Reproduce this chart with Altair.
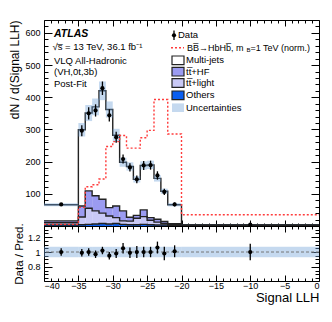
import altair as alt
import pandas as pd

# ---------------- data ----------------
edges = [-40, -35, -34, -33, -32, -31, -30, -29, -28, -27, -26, -25, -24, -23, -22, -20, 0]
others = [3, 4, 5, 6, 8, 6, 8, 5, 4, 4, 5, 4, 3, 3, 2, 0.5]
tt_light = [7, 24, 50, 41, 32, 25, 18, 11, 11, 20, 24, 14, 9, 5, 2, 0.5]
tt_hf = [6, 34, 54, 47, 43, 26, 36, 31, 12, 9, 21, 8, 9, 6, 3, 1]
multijet = [50, 237, 242, 276, 337, 305, 220, 151, 158, 112, 138, 164, 127, 94, 59, 2]
signal = [5, 58, 122, 128, 146, 247, 262, 281, 242, 242, 274, 297, 393, 393, 286, 35]
data_vals = [67, 296, 350, 359, 428, 344, 276, 208, 182, 145, 188, 189, 157, 106, 67, 4]
data_err = [3.7, 17, 19, 19, 21, 19, 17, 14, 13, 12, 14, 14, 13, 10, 6, 0.45]
pred_unc = [5, 21, 25, 26, 29, 25, 20, 14, 13, 10, 13, 13, 10, 8, 5, 0.3]
ratio_vals = [1.0, 0.99, 1.0, 0.97, 1.02, 0.95, 0.98, 1.05, 0.99, 1.0, 1.0, 1.0, 1.06, 0.98, 1.01, 1.0]
ratio_err = [0.05, 0.05, 0.05, 0.05, 0.05, 0.05, 0.06, 0.07, 0.07, 0.08, 0.07, 0.07, 0.08, 0.09, 0.08, 0.11]
ratio_unc = [0.07, 0.07, 0.07, 0.07, 0.07, 0.07, 0.07, 0.07, 0.07, 0.07, 0.07, 0.07, 0.07, 0.07, 0.07, 0.07]

main_yticks = [100, 200, 300, 400, 500, 600]
main_yminor = [20, 40, 60, 80, 120, 140, 160, 180, 220, 240, 260, 280, 320, 340, 360, 380,
               420, 440, 460, 480, 520, 540, 560, 580, 620]
ratio_yticks = [0.8, 1.0, 1.2]
ratio_yminor = [0.65, 0.7, 0.75, 0.85, 0.9, 0.95, 1.05, 1.1, 1.15, 1.25, 1.3]
xticks = [-40, -35, -30, -25, -20, -15, -10, -5, 0]
xminor = [v for v in range(-39, 0) if v % 5 != 0]

comp_names = ["Others", "tt+light", "tt+HF", "Multi-jets"]
comp_colors = ["#0a5ef0", "#c9c9f6", "#9b9bf1", "#ffffff"]

# ---------------- layout / style ----------------
W, H1, H2 = 275, 206, 55
FONT = "Liberation Sans"
BAND = "#6f9fd8"
BAND_OP = 0.4

n = len(edges) - 1
lo = edges[:-1]
hi = edges[1:]
mid = [(a + b) / 2 for a, b in zip(lo, hi)]

xs = alt.Scale(domain=[-40, 0], nice=False, zero=False)
ys1 = alt.Scale(domain=[0, 640], nice=False, zero=False)
ys2 = alt.Scale(domain=[0.61, 1.35], nice=False, zero=False)

# stacked components
rows, lines = [], []
base = [0.0] * n
for name, vals in zip(comp_names, [others, tt_light, tt_hf, multijet]):
    top = [b + v for b, v in zip(base, vals)]
    for i in range(n):
        rows.append(dict(lo=lo[i], hi=hi[i], y0=base[i], y1=top[i], comp=name))
    for i, e in enumerate(edges):
        lines.append(dict(x=e, y=top[min(i, n - 1)], comp=name))
    base = top
total = base
stack_df = pd.DataFrame(rows)
line_df = pd.DataFrame(lines)
sig_df = pd.DataFrame({"x": edges, "y": signal + [signal[-1]]})
bins_df = pd.DataFrame({"lo": lo, "hi": hi, "mid": mid, "pred": total, "unc": pred_unc,
                        "data": data_vals, "err": data_err,
                        "r": ratio_vals, "rerr": ratio_err, "runc": ratio_unc})
bins_df["ulo"] = bins_df["pred"] - bins_df["unc"]
bins_df["uhi"] = bins_df["pred"] + bins_df["unc"]
bins_df["dlo"] = bins_df["data"] - bins_df["err"]
bins_df["dhi"] = bins_df["data"] + bins_df["err"]
bins_df["rlo"] = bins_df["r"] - bins_df["rerr"]
bins_df["rhi"] = bins_df["r"] + bins_df["rerr"]
bins_df["rulo"] = 1 - bins_df["runc"]
bins_df["ruhi"] = 1 + bins_df["runc"]


def tick_axis(orient, offset, values, size):
    return alt.Axis(orient=orient, offset=offset, values=values, tickSize=size, labels=False,
                    domain=False, grid=False, title=None, ticks=True, tickColor="black", tickWidth=1)


def axis_layers(ys, yfield, ymaj, ymin, H, ysz=8, xsz=6):
    out = []
    specs = [
        (tick_axis("top", -H, xticks, xsz), tick_axis("right", -W, ymaj, ysz)),
        (tick_axis("top", -H, xminor, xsz / 2), tick_axis("right", -W, ymin, ysz / 2)),
        (tick_axis("bottom", -H, xticks, xsz), tick_axis("left", -W, ymaj, ysz)),
        (tick_axis("bottom", -H, xminor, xsz / 2), tick_axis("left", -W, ymin, ysz / 2)),
    ]
    for xa, ya in specs:
        out.append(alt.Chart(bins_df).mark_point(opacity=0).encode(
            x=alt.X("mid:Q", scale=xs, axis=xa), y=alt.Y(yfield, scale=ys, axis=ya)))
    return out


# ---------------- main panel ----------------
fills = alt.Chart(stack_df).mark_rect(clip=True).encode(
    x=alt.X("lo:Q", scale=xs, axis=None), x2="hi:Q",
    y=alt.Y("y0:Q", scale=ys1, axis=alt.Axis(
        orient="left", values=main_yticks, ticks=False, domain=False, grid=False,
        labelPadding=4, title="dN / d(Signal LLH)", titleAnchor="end", titlePadding=3)),
    y2="y1:Q",
    color=alt.Color("comp:N", scale=alt.Scale(domain=comp_names, range=comp_colors), legend=None),
)
outlines = alt.Chart(line_df).mark_line(interpolate="step-after", color="#222222",
                                        strokeWidth=1.4, clip=True).encode(
    x=alt.X("x:Q", scale=xs, axis=None), y=alt.Y("y:Q", scale=ys1, axis=None), detail="comp:N")
band = alt.Chart(bins_df).mark_rect(color=BAND, opacity=BAND_OP, clip=True).encode(
    x=alt.X("lo:Q", scale=xs, axis=None), x2="hi:Q",
    y=alt.Y("ulo:Q", scale=ys1, axis=None), y2="uhi:Q")
sig = alt.Chart(sig_df).mark_line(interpolate="step-after", color="#ff3b3b", strokeDash=[2, 2],
                                  strokeWidth=1.4, clip=True).encode(
    x=alt.X("x:Q", scale=xs, axis=None), y=alt.Y("y:Q", scale=ys1, axis=None))
derr = alt.Chart(bins_df).mark_rule(color="black", strokeWidth=1.3).encode(
    x=alt.X("mid:Q", scale=xs, axis=None), y=alt.Y("dlo:Q", scale=ys1, axis=None), y2="dhi:Q")
dpts = alt.Chart(bins_df).mark_point(filled=True, shape="circle", size=18, color="black",
                                     opacity=1).encode(
    x=alt.X("mid:Q", scale=xs, axis=None), y=alt.Y("data:Q", scale=ys1, axis=None))


def txt(s, x, y, size=9.5, **kw):
    return alt.Chart(pd.DataFrame({"t": [s]})).mark_text(
        align="left", baseline="middle", font=FONT, fontSize=size, color="black", **kw).encode(
        x=alt.value(x), y=alt.value(y), text="t:N")


annot = [
    txt("ATLAS", 10, 14, 10.5, fontWeight="bold", fontStyle="italic"),
    txt("\u221as\u0305 = 13 TeV, 36.1 fb\u207b\u00b9", 8.5, 27),
    txt("VLQ All-Hadronic", 10, 41),
    txt("(VH,0t,3b)", 10, 52),
    txt("Post-Fit", 10, 64),
]

LX0, LX1, LT = 128, 140, 142
leg = []
# Data
leg.append(alt.Chart(pd.DataFrame({"a": [0]})).mark_rule(color="black", strokeWidth=1.3).encode(
    x=alt.value(130), y=alt.value(10.5), y2=alt.value(20)))
leg.append(alt.Chart(pd.DataFrame({"a": [0]})).mark_point(filled=True, size=18, color="black",
                                                          opacity=1).encode(
    x=alt.value(130), y=alt.value(15.3)))
leg.append(txt("Data", 134, 15.3))
# signal
leg.append(alt.Chart(pd.DataFrame({"a": [0]})).mark_rule(color="#ff3b3b", strokeDash=[2, 2],
                                                         strokeWidth=1.4).encode(
    x=alt.value(127), x2=alt.value(140), y=alt.value(27.7)))
leg.append(txt("BB\u0305\u2192HbHb\u0305, m", 143, 27.7, 9))
leg.append(txt("B", 202.5, 30.3, 6))
leg.append(txt("=1 TeV (norm.)", 206.5, 27.7, 9))
box_items = [("Multi-jets", "#ffffff", 40.3), ("tt\u0305+HF", "#9b9bf1", 51.7),
             ("tt\u0305+light", "#c9c9f6", 63.0), ("Others", "#0a5ef0", 75.3)]
for lab, col, yy in box_items:
    leg.append(alt.Chart(pd.DataFrame({"a": [0]})).mark_rect(fill=col, stroke="#222222",
                                                             strokeWidth=1.2).encode(
        x=alt.value(LX0), x2=alt.value(LX1), y=alt.value(yy - 4.3), y2=alt.value(yy + 4.3)))
    leg.append(txt(lab, LT, yy))
leg.append(alt.Chart(pd.DataFrame({"a": [0]})).mark_rect(fill=BAND, opacity=BAND_OP).encode(
    x=alt.value(LX0), x2=alt.value(LX1), y=alt.value(87.7 - 4.3), y2=alt.value(87.7 + 4.3)))
leg.append(txt("Uncertainties", LT, 87.7))

main = alt.layer(
    fills, outlines, band, sig, derr, dpts,
    *axis_layers(ys1, "data:Q", main_yticks, main_yminor, H1),
    *annot, *leg,
).resolve_axis(x="independent", y="independent").properties(width=W, height=H1)

# ---------------- ratio panel ----------------
rband = alt.Chart(bins_df).mark_rect(color=BAND, opacity=BAND_OP).encode(
    x=alt.X("lo:Q", scale=xs, axis=alt.Axis(
        orient="bottom", values=xticks, ticks=False, domain=False, grid=False, labelPadding=0,
        title="Signal LLH", titleAnchor="end", titleFontSize=13, titlePadding=1)),
    x2="hi:Q",
    y=alt.Y("rulo:Q", scale=ys2, axis=alt.Axis(
        orient="left", values=ratio_yticks, format=".1~f", ticks=False, domain=False, grid=False,
        labelPadding=4, title="Data / Pred.", titlePadding=3, titleFontSize=11.5)),
    y2="ruhi:Q")
one = alt.Chart(pd.DataFrame({"y": [1.0]})).mark_rule(color="#777777", strokeDash=[3, 2],
                                                      strokeWidth=1).encode(
    y=alt.Y("y:Q", scale=ys2, axis=None))
rerr = alt.Chart(bins_df).mark_rule(color="black", strokeWidth=1.3).encode(
    x=alt.X("mid:Q", scale=xs, axis=None), y=alt.Y("rlo:Q", scale=ys2, axis=None), y2="rhi:Q")
rpts = alt.Chart(bins_df).mark_point(filled=True, shape="circle", size=18, color="black",
                                     opacity=1).encode(
    x=alt.X("mid:Q", scale=xs, axis=None), y=alt.Y("r:Q", scale=ys2, axis=None))

ratio = alt.layer(
    rband, one, rerr, rpts,
    *axis_layers(ys2, "r:Q", ratio_yticks, ratio_yminor, H2),
).resolve_axis(x="independent", y="independent").properties(width=W, height=H2)

chart = alt.vconcat(main, ratio, spacing=0, bounds="flush").properties(
    padding={"left": 0, "top": 11, "right": 0, "bottom": 0}
).configure_view(stroke="black", strokeWidth=1).configure_axis(
    labelFont=FONT, titleFont=FONT, labelFontSize=9, titleFontSize=12,
    titleFontWeight="normal", labelColor="black", titleColor="black")

chart.save("out.html", embed_options={"renderer": "svg", "actions": False})
